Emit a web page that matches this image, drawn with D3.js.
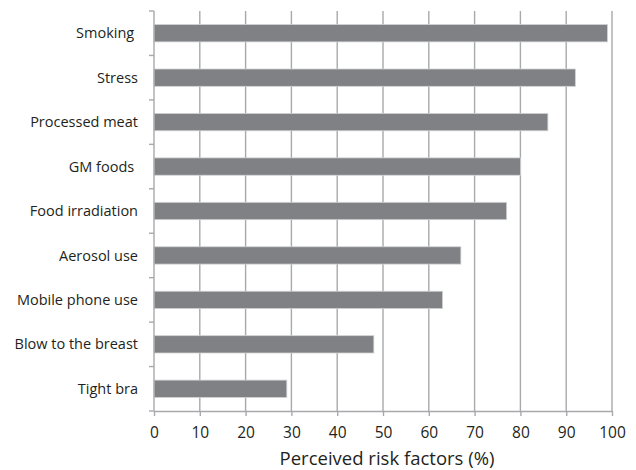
<!DOCTYPE html>
<html>
<head>
<meta charset="utf-8">
<script src="https://cdn.jsdelivr.net/npm/d3@7"></script>
<style>
  html, body { margin: 0; padding: 0; background: #fff; }
  svg text { font-family: "Open Sans", "Noto Sans", sans-serif; fill: #231f20; }
</style>
</head>
<body>
<svg id="chart" width="636" height="470"></svg>
<script>
// Perceived breast cancer risk factors, share of respondents (%)
const categories = ["Smoking ", "Stress", "Processed meat", "GM foods ", "Food irradiation",
                    "Aerosol use", "Mobile phone use", "Blow to the breast", "Tight bra"];
const values = [99, 92, 86, 80, 77, 67, 63, 48, 29];
const xTicks = [0, 10, 20, 30, 40, 50, 60, 70, 80, 90, 100];
const xTitle = "Perceived risk factors (%)";

const margin = { top: 11, right: 24, bottom: 59, left: 154 };
const width = 636, height = 470;
const svg = d3.select("#chart");

const x = d3.scaleLinear().domain([0, 100]).range([margin.left, width - margin.right]);
const y = d3.scaleBand().domain(categories).range([margin.top, height - margin.bottom]).paddingInner(0.61).paddingOuter(0.305);

// vertical gridlines
svg.append("g").selectAll("line").data(xTicks.slice(1)).join("line")
  .attr("x1", d => x(d)).attr("x2", d => x(d))
  .attr("y1", margin.top).attr("y2", height - margin.bottom)
  .attr("stroke", "#a7a9ac").attr("stroke-width", 1.4);

// bars
svg.append("g").selectAll("rect").data(values).join("rect")
  .attr("x", x(0))
  .attr("y", (d, i) => y(categories[i]))
  .attr("width", d => x(d) - x(0))
  .attr("height", y.bandwidth())
  .attr("fill", "#808184")
  .attr("stroke", "#d1d2d4").attr("stroke-width", 0.8);

// x axis
const xAxis = svg.append("g")
  .attr("transform", `translate(0,${height - margin.bottom})`)
  .call(d3.axisBottom(x).tickValues(xTicks).tickSizeOuter(0).tickSizeInner(5).tickPadding(11));
xAxis.select(".domain").attr("stroke", "#a7a9ac").attr("stroke-width", 1.4);
xAxis.selectAll(".tick line").attr("stroke", "#a7a9ac").attr("stroke-width", 1.4);
xAxis.selectAll(".tick text").attr("font-size", 15.5).style("font-family", "'Open Sans', sans-serif").attr("fill", "#231f20");

// y axis line with ticks at band boundaries
const step = y.step();
const bounds = d3.range(categories.length + 1).map(i => margin.top + i * step);
svg.append("line")
  .attr("x1", x(0)).attr("x2", x(0))
  .attr("y1", margin.top).attr("y2", height - margin.bottom)
  .attr("stroke", "#a7a9ac").attr("stroke-width", 1.4);
svg.append("g").selectAll("line").data(bounds).join("line")
  .attr("x1", x(0) - 5).attr("x2", x(0))
  .attr("y1", d => d).attr("y2", d => d)
  .attr("stroke", "#a7a9ac").attr("stroke-width", 1.4);

// category labels
svg.append("g").selectAll("text").data(categories).join("text")
  .attr("x", 138)
  .attr("y", d => y(d) + y.bandwidth() / 2)
  .attr("dy", "0.35em")
  .attr("text-anchor", "end")
  .attr("font-size", 14.5)
  .style("white-space", "pre")
  .text(d => d);

// axis title
svg.append("text")
  .attr("x", (x(0) + x(100)) / 2 + 4)
  .attr("y", 465)
  .attr("text-anchor", "middle")
  .attr("font-size", 18.5)
  .text(xTitle);
</script>
</body>
</html>
